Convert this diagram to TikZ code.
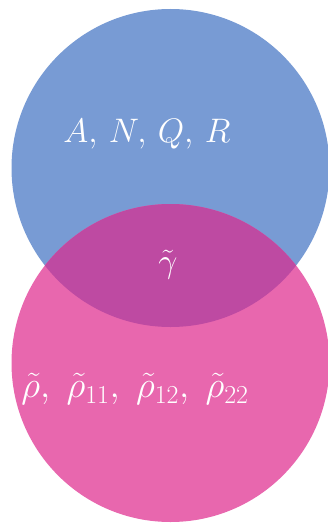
\RequirePackage{fix-cm}
\documentclass[tikz,border=0pt]{standalone}
\usepackage{amsmath}
\usepackage{tikz}
\usetikzlibrary{positioning, calc}
\usepackage{xcolor}

\definecolor{setblue}{RGB}{120,155,212}
\definecolor{setpink}{RGB}{232,103,174}
\definecolor{setboth}{RGB}{190,74,162}

\begin{document}
\begin{tikzpicture}[x=1pt, y=-1pt,
    setlabel/.style={text=white, inner sep=0pt, font=\fontsize{34}{40}\selectfont}]
    \useasboundingbox (0,0) rectangle (328,524);

    % Centres of the two sets
    \coordinate (top) at (170.5, 168);
    \coordinate (bot) at (170.5, 363);

    % Sets
    \fill[setblue] (top) circle (159pt);
    \fill[setpink] (bot) circle (159pt);
    \begin{scope}
        \clip (top) circle (159pt);
        \fill[setboth] (bot) circle (159pt);
    \end{scope}

    % Labels
    \node[setlabel] (vars) at (147, 134) {$A,\, N,\, Q,\, R$};
    \node[setlabel] (gamma) at (168, 265) {$\tilde{\gamma}$};
    \node[setlabel, font=\fontsize{37}{42}\selectfont] (rhos) at (135, 389)
        {$\tilde{\rho},\; \tilde{\rho}_{11},\; \tilde{\rho}_{12},\; \tilde{\rho}_{22}$};
\end{tikzpicture}
\end{document}
